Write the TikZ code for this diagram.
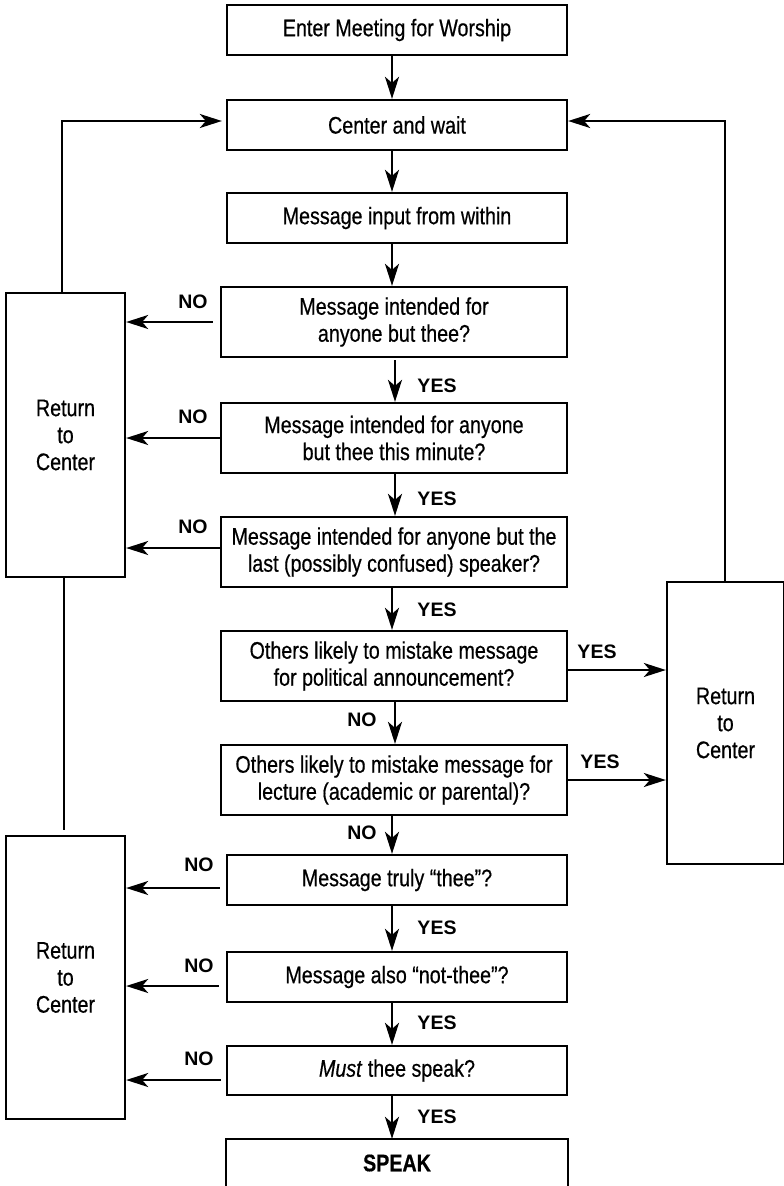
\documentclass[tikz,border=0pt]{standalone}
\usepackage{fontspec}
\setmainfont{Liberation Sans}[FakeStretch=0.82,FakeBold=0.5]
\newfontfamily\lblfont{Liberation Sans}
\usetikzlibrary{arrows.meta,calc}
\begin{document}
\begin{tikzpicture}[x=1pt,y=-1pt,
  box/.style={draw, line width=2.3pt, align=center, inner sep=0pt, font=\fontsize{24}{27}\selectfont},
  arr/.style={line width=2.2pt, -{Stealth[length=22pt,width=14pt,inset=6pt]}},
  ln/.style={line width=2pt},
  lbl/.style={font=\lblfont\bfseries\fontsize{19.5}{21}\selectfont, inner sep=0pt}]
\useasboundingbox (0,0) rectangle (784,1186);
\clip (0,0) rectangle (784,1186);
% main boxes
\node[box, minimum width=340, minimum height=50] (b1) at (397,30) {Enter Meeting for Worship};
\node[box, minimum width=340, minimum height=50] (b2) at (397,125) {Center and wait};
\node[box, minimum width=340, minimum height=50] (b3) at (397,218) {Message input from within};
\node[box, minimum width=346, minimum height=70] (b4) at (394,322) {Message intended for\\anyone but thee?};
\node[box, minimum width=346, minimum height=70] (b5) at (394,438) {Message intended for anyone\\but thee this minute?};
\node[box, minimum width=346, minimum height=70] (b6) at (394,552) {Message intended for anyone but the\\last (possibly confused) speaker?};
\node[box, minimum width=346, minimum height=70] (b7) at (394,666) {Others likely to mistake message\\for political announcement?};
\node[box, minimum width=346, minimum height=70] (b8) at (394,780) {Others likely to mistake message for\\lecture (academic or parental)?};
\node[box, minimum width=340, minimum height=50] (b9) at (397,880) {Message truly “thee”?};
\node[box, minimum width=340, minimum height=50] (b10) at (397,977) {Message also “not-thee”?};
\node[box, minimum width=340, minimum height=49] (b11) at (397,1070.5) {\textit{Must} thee speak?};
\node[box, draw=none, minimum width=340, minimum height=46, font=\bfseries\fontsize{24}{27}\selectfont] (b12) at (397,1163) {SPEAK};
\draw[line width=2.3pt] ([yshift=-20pt]b12.south west) -- (b12.north west) -- (b12.north east) -- ([yshift=-20pt]b12.south east);
% return boxes
\node[box, minimum width=119, minimum height=284] (L1) at (65.5,435) {Return\\to\\Center};
\node[box, minimum width=119, minimum height=283] (L2) at (65.5,977.5) {Return\\to\\Center};
\node[box, minimum width=117, minimum height=282] (R) at (725.5,723) {Return\\to\\Center};
% helper coordinates
\coordinate (ax) at (392,0);
\coordinate (bx) at (395,0);
\coordinate (lt) at (62,121);
\coordinate (rt) at (725,121);
\coordinate (lc) at (64,830);
\coordinate (s4) at ([xshift=-7pt]b4.west);
\coordinate (s5) at (b5.west);
\coordinate (s6) at ([yshift=4pt]b6.west);
\coordinate (s9) at ([xshift=-6pt,yshift=-8pt]b9.west);
\coordinate (s10) at ([xshift=-7pt,yshift=-9pt]b10.west);
\coordinate (s11) at ([xshift=-5pt,yshift=-9.5pt]b11.west);
\coordinate (e7) at ([yshift=-4pt]b7.east);
\coordinate (e8) at (b8.east);
% vertical arrows
\draw[arr] (b1.south -| ax) -- (b2.north -| ax);
\draw[arr] (b2.south -| ax) -- (b3.north -| ax);
\draw[arr] (b3.south -| ax) -- (b4.north -| ax);
\draw[arr] ([yshift=-2pt]b4.south -| bx) -- (b5.north -| bx);
\draw[arr] (b5.south -| bx) -- (b6.north -| bx);
\draw[arr] (b6.south -| ax) -- (b7.north -| ax);
\draw[arr] (b7.south -| bx) -- (b8.north -| bx);
\draw[arr] (b8.south -| ax) -- (b9.north -| ax);
\draw[arr] (b9.south -| ax) -- (b10.north -| ax);
\draw[arr] (b10.south -| ax) -- (b11.north -| ax);
\draw[arr] (b11.south -| ax) -- (b12.north -| ax);
% loops back to center
\draw[arr] (lt |- L1.north) -- (lt) -- ([xshift=-4pt]b2.west |- lt);
\draw[arr] (rt |- R.north) -- (rt) -- (b2.east |- rt);
\draw[ln] (lc |- L1.south) -- (lc);
% NO arrows to the left
\draw[arr] (s4) -- (L1.east |- s4);
\draw[arr] (s5) -- (L1.east |- s5);
\draw[arr] (s6) -- (L1.east |- s6);
\draw[arr] (s9) -- (L2.east |- s9);
\draw[arr] (s10) -- (L2.east |- s10);
\draw[arr] (s11) -- (L2.east |- s11);
% YES arrows to the right
\draw[arr] (e7) -- (R.west |- e7);
\draw[arr] (e8) -- (R.west |- e8);
% labels
\node[lbl] (n1) at (193,302) {NO};
\node[lbl] (n2) at (193,417) {NO};
\node[lbl] (n3) at (193,527) {NO};
\node[lbl] (n4) at (199,865) {NO};
\node[lbl] (n5) at (199,966) {NO};
\node[lbl] (n6) at (199,1059) {NO};
\node[lbl] (y1) at (437,386) {YES};
\node[lbl] (y2) at (437,499) {YES};
\node[lbl] (y3) at (437,610) {YES};
\node[lbl] (y4) at (437,928) {YES};
\node[lbl] (y5) at (437,1023) {YES};
\node[lbl] (y6) at (437,1117) {YES};
\node[lbl] (n7) at (362,720) {NO};
\node[lbl] (n8) at (362,833) {NO};
\node[lbl] (y7) at (597,652) {YES};
\node[lbl] (y8) at (600,762) {YES};
\end{tikzpicture}
\end{document}
